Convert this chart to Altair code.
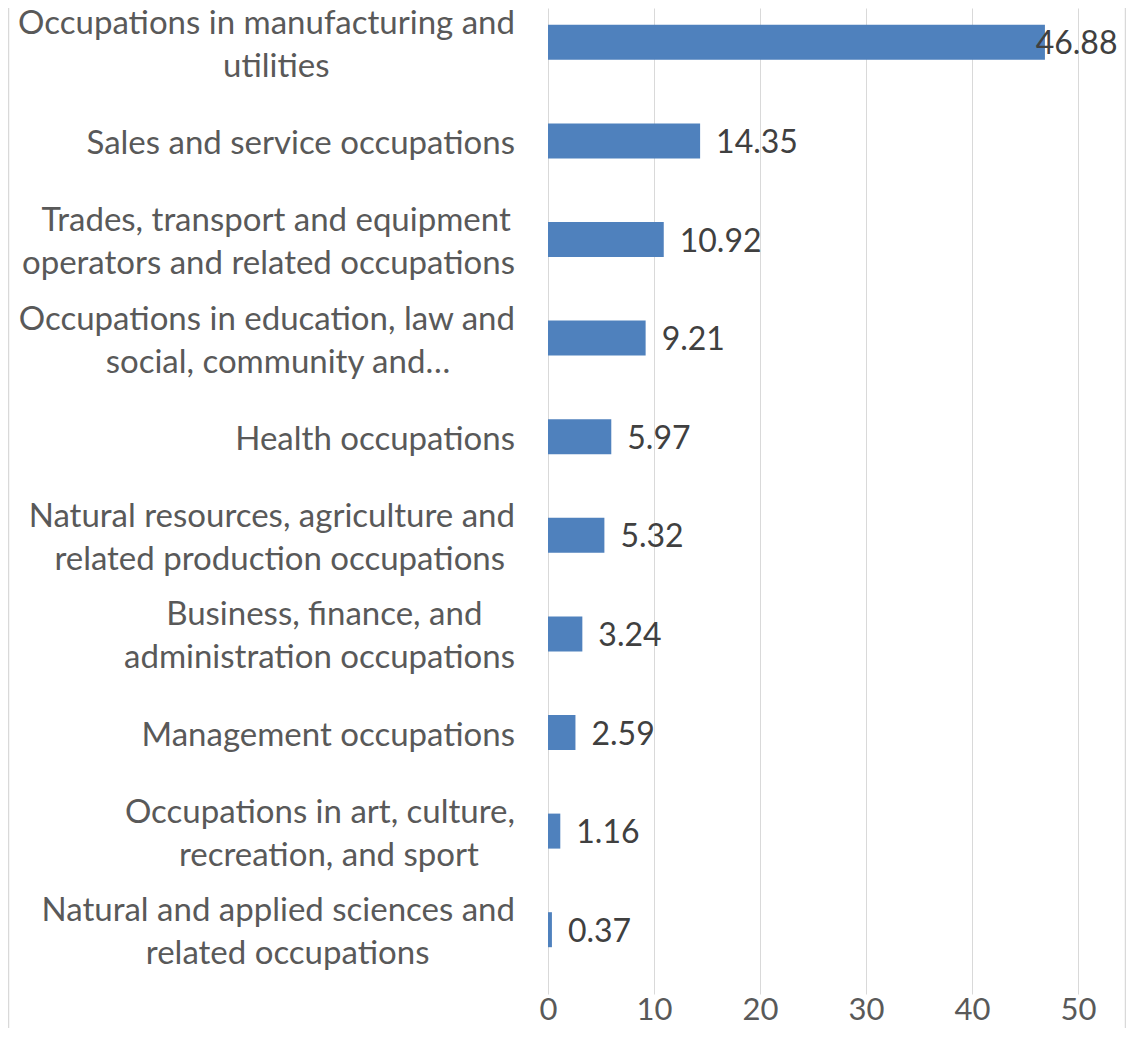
import altair as alt
import pandas as pd

# ---------------- data ----------------
categories = [
    "Occupations in manufacturing and utilities",
    "Sales and service occupations",
    "Trades, transport and equipment operators and related occupations",
    "Occupations in education, law and social, community and…",
    "Health occupations",
    "Natural resources, agriculture and related production occupations",
    "Business, finance, and administration occupations",
    "Management occupations",
    "Occupations in art, culture, recreation, and sport",
    "Natural and applied sciences and related occupations",
]
label_lines = [
    ["Occupations in manufacturing and", "utilities"],
    ["Sales and service occupations"],
    ["Trades, transport and equipment ", "operators and related occupations"],
    ["Occupations in education, law and", "social, community and…"],
    ["Health occupations"],
    ["Natural resources, agriculture and", "related production occupations"],
    ["Business, finance, and", "administration occupations"],
    ["Management occupations"],
    ["Occupations in art, culture,", "recreation, and sport"],
    ["Natural and applied sciences and", "related occupations"],
]
values = [46.88, 14.35, 10.92, 9.21, 5.97, 5.32, 3.24, 2.59, 1.16, 0.37]
x_ticks = [0, 10, 20, 30, 40, 50]

# ---------------- style ----------------
FONT = "Lato"
FS_CAT = 33
FS_VAL = 32
FS_TICK = 31
LABEL_RIGHT = -33      # px, right edge of category labels relative to plot
LINE_GAP = 21.5        # half line height
PLOT_W, PLOT_H = 530, 971
BAR_COLOR = "#4F81BD"
GRID = "#d9d9d9"

# rough Lato advance widths (em) used to centre shorter label lines
_w = {" ": 0.19, ",": 0.21, ".": 0.21, "…": 0.75, "i": 0.24, "l": 0.24, "j": 0.24,
      "f": 0.33, "t": 0.35, "r": 0.36, "s": 0.42, "c": 0.46, "z": 0.45, "e": 0.51,
      "a": 0.49, "m": 0.82, "w": 0.76, "g": 0.50, "y": 0.49, "v": 0.50, "k": 0.50,
      "x": 0.49}


def text_w(s):
    tot = 0.0
    for ch in s:
        if ch in _w:
            tot += _w[ch]
        elif ch.isupper():
            tot += 0.66
        else:
            tot += 0.55
    return tot * FS_CAT


df = pd.DataFrame({"category": categories, "value": values})

rows = []
for cat, lines in zip(categories, label_lines):
    n = len(lines)
    widths = [text_w(s) for s in lines]
    widest = max(range(n), key=lambda i: widths[i])
    for i, s in enumerate(lines):
        if i == widest:
            rows.append({"category": cat, "text": s, "pos": f"{n}-{i}", "role": "right",
                         "cx": LABEL_RIGHT})
        else:
            rows.append({"category": cat, "text": s, "pos": f"{n}-{i}", "role": "center",
                         "cx": LABEL_RIGHT - widths[widest] / 2})
lab = pd.DataFrame(rows)

y_enc = alt.Y("category:N", sort=categories, axis=None,
              scale=alt.Scale(range=[-15, PLOT_H], paddingInner=0.645, paddingOuter=0.3225))

bars = alt.Chart(df).mark_bar(color=BAR_COLOR).encode(
    x=alt.X("value:Q",
            scale=alt.Scale(domain=[0, 50], nice=False),
            axis=alt.Axis(values=x_ticks, grid=True, gridColor=GRID, gridWidth=1,
                          ticks=False, domain=False, labelFont=FONT, labelFontSize=FS_TICK,
                          labelColor="#595959", labelPadding=16, title=None,
                          labelFlush=False)),
    y=y_enc,
)

vals = alt.Chart(df).transform_calculate(lx="min(datum.value, 44.5)").mark_text(
    align="left", baseline="middle", dx=16, dy=2, font=FONT, fontSize=FS_VAL,
    color="#404040"
).encode(
    x=alt.X("lx:Q"),
    y=y_enc,
    text=alt.Text("value:Q", format=".2f"),
)

layers = [bars, vals]
for pos, dy in [("1-0", 3), ("2-0", 3 - LINE_GAP), ("2-1", 3 + LINE_GAP)]:
    for role in ["right", "center"]:
        align = "right" if role == "right" else "center"
        layers.append(
            alt.Chart(lab).transform_filter(
                (alt.datum.pos == pos) & (alt.datum.role == role)
            ).mark_text(align=align, baseline="middle", dy=dy, font=FONT,
                        fontSize=FS_CAT, color="#595959").encode(
                x=alt.X("cx:Q", scale=None),
                y=y_enc,
                text="text:N",
            )
        )

border = alt.Chart(pd.DataFrame({"b": [-539.5, 577.5]})).mark_rule(
    color=GRID, strokeWidth=1.5
).encode(x=alt.X("b:Q", scale=None), y=alt.value(0), y2=alt.value(1030))
layers.append(border)

chart = alt.layer(*layers).properties(
    width=PLOT_W, height=PLOT_H,
    autosize=alt.AutoSizeParams(type="none"),
    padding={"left": 540, "top": 0, "right": 48, "bottom": 49},
).configure_view(stroke=None)

chart.save("out.html", embed_options={"renderer": "svg", "actions": False})
